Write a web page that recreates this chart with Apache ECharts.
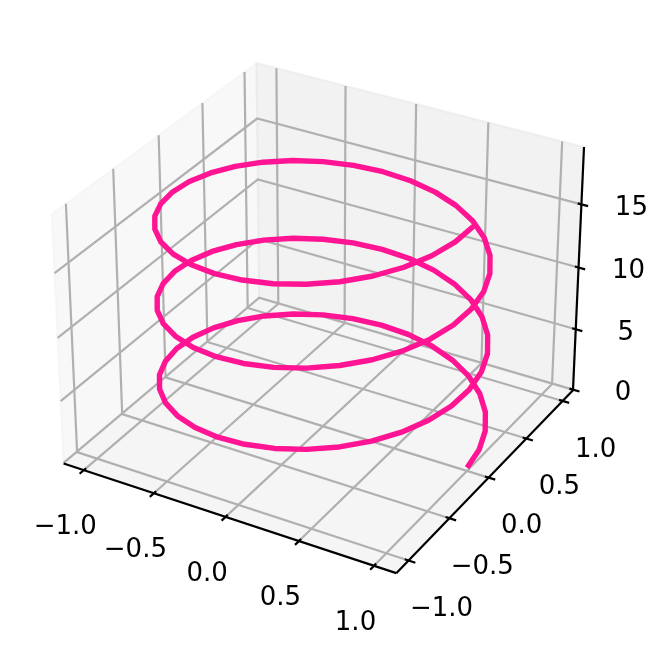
<!DOCTYPE html>
<html><head><meta charset="utf-8">
<style>html,body{margin:0;padding:0;background:#fff}#c{width:667px;height:655px}</style>
<script src="https://cdn.jsdelivr.net/npm/echarts@6/dist/echarts.min.js"></script>
</head><body><div id="c"></div>
<script>
var helixX=[1.000,.982,.928,.841,.724,.580,.415,.236,.048,-.142,-.327,-.500,-.655,-.786,-.889,-.959,-.995,-.995,-.959,-.889,-.786,-.655,-.500,-.327,-.142,.048,.236,.415,.580,.724,.841,.928,.982,
1.000,.982,.928,.841,.724,.580,.415,.236,.048,-.142,-.327,-.500,-.655,-.786,-.889,-.959,-.995,-.995,-.959,-.889,-.786,-.655,-.500,-.327,-.142,.048,.236,.415,.580,.724,.841,.928,.982,
1.000,.982,.928,.841,.724,.580,.415,.236,.048,-.142,-.327,-.500,-.655,-.786,-.889,-.959,-.995,-.995,-.959,-.889,-.786,-.655,-.500,-.327,-.142,.048,.236,.415,.580,.724,.841,.928,.982,1.000];
var helixY=[0,.189,.372,.541,.690,.815,.910,.972,.999,.990,.945,.866,.756,.618,.458,.282,.095,-.095,-.282,-.458,-.618,-.756,-.866,-.945,-.990,-.999,-.972,-.910,-.815,-.690,-.541,-.372,-.189,
0,.189,.372,.541,.690,.815,.910,.972,.999,.990,.945,.866,.756,.618,.458,.282,.095,-.095,-.282,-.458,-.618,-.756,-.866,-.945,-.990,-.999,-.972,-.910,-.815,-.690,-.541,-.372,-.189,
0,.189,.372,.541,.690,.815,.910,.972,.999,.990,.945,.866,.756,.618,.458,.282,.095,-.095,-.282,-.458,-.618,-.756,-.866,-.945,-.990,-.999,-.972,-.910,-.815,-.690,-.541,-.372,-.189,0];
var helixZ=[.20,.39,.58,.77,.96,1.15,1.34,1.53,1.72,1.91,2.10,2.29,2.48,2.68,2.87,3.06,3.25,3.44,3.63,3.82,4.01,4.20,4.39,4.58,4.77,4.96,5.15,5.34,5.53,5.72,5.91,6.10,6.29,6.48,6.67,6.86,7.05,7.25,7.44,7.63,7.82,8.01,8.20,8.39,8.58,8.77,8.96,9.15,9.34,9.53,9.72,9.91,10.10,10.29,10.48,10.67,10.86,11.05,11.24,11.43,11.62,11.82,12.01,12.20,12.39,12.58,12.77,12.96,13.15,13.34,13.53,13.72,13.91,14.10,14.29,14.48,14.67,14.86,15.05,15.24,15.43,15.62,15.81,16.00,16.20,16.39,16.58,16.77,16.96,17.15,17.34,17.53,17.72,17.91,18.10,18.29,18.48,18.67,18.86,19.05];
var xTicks=[-1,-0.5,0,0.5,1];
var yTicks=[-1,-0.5,0,0.5,1];
var zTicks=[0,5,10,15];
var xTickLabels=["\u22121.0","\u22120.5","0.0","0.5","1.0"];
var yTickLabels=["\u22121.0","\u22120.5","0.0","0.5","1.0"];
var zTickLabels=["0","5","10","15"];
var xLim=[-1.146,1.146], yLim=[-1.146,1.146], zLim=[-0.05,19.45];

// mplot3d-style perspective projection (elev 30, azim -60, dist 10)
var box=[1.1905,1.1905,0.88];
var uVec=[.8660,.5,0], vVec=[-.25,.4330,.8660], wVec=[.4330,-.75,.5];
function dot(a,b){return a[0]*b[0]+a[1]*b[1]+a[2]*b[2];}
function project(x,y,z){
  var p=[((x-xLim[0])/(xLim[1]-xLim[0])-.5)*box[0],
         ((y-yLim[0])/(yLim[1]-yLim[0])-.5)*box[1],
         ((z-zLim[0])/(zLim[1]-zLim[0])-.5)*box[2]];
  var d=10-dot(p,wVec);
  return [dot(p,uVec)/d,dot(p,vVec)/d];
}
var gridColor='#b0b0b0', series=[];
var x0=xLim[0],x1=xLim[1],y0=yLim[0],y1=yLim[1],z0=zLim[0],z1=zLim[1];
var panes=[
 {c:[[x0,y0,z0],[x0,y1,z0],[x0,y1,z1],[x0,y0,z1]],f:'rgba(242,242,242,0.5)'},
 {c:[[x0,y1,z0],[x1,y1,z0],[x1,y1,z1],[x0,y1,z1]],f:'rgba(230,230,230,0.5)'},
 {c:[[x0,y0,z0],[x1,y0,z0],[x1,y1,z0],[x0,y1,z0]],f:'rgba(236,236,236,0.5)'}
];
series.push({type:'custom',silent:true,z:1,data:panes.map(function(p,i){return [i];}),
  renderItem:function(params,api){
    var p=panes[params.dataIndex];
    return {type:'polygon',shape:{points:p.c.map(function(c){return api.coord(project(c[0],c[1],c[2]));})},
      style:{fill:p.f,stroke:p.f,lineWidth:2}};
  }});
function poly(pts,color,w,z){
  series.push({type:'line',silent:true,z:z,symbol:'none',animation:false,clip:false,
    data:pts.map(function(c){return project(c[0],c[1],c[2]);}),
    lineStyle:{color:color,width:w,cap:'butt',join:'miter'}});
}
xTicks.forEach(function(t){poly([[t,y0,z0],[t,y1,z0],[t,y1,z1]],gridColor,2.2,2);});
yTicks.forEach(function(t){poly([[x1,t,z0],[x0,t,z0],[x0,t,z1]],gridColor,2.2,2);});
zTicks.forEach(function(t){poly([[x0,y0,t],[x0,y1,t],[x1,y1,t]],gridColor,2.2,2);});
poly([[x0,y0,z0],[x1,y0,z0]],'#000',2.2,3);
poly([[x1,y0,z0],[x1,y1,z0]],'#000',2.2,3);
poly([[x1,y1,z0],[x1,y1,z1]],'#000',2.2,3);
var tOut=.045,tIn=.025;
xTicks.forEach(function(t){poly([[t,y0+tIn,z0],[t,y0-tOut,z0]],'#000',2.2,3);});
yTicks.forEach(function(t){poly([[x1-tIn,t,z0],[x1+tOut,t,z0]],'#000',2.2,3);});
zTicks.forEach(function(t){poly([[x1-tIn,y1,t],[x1+tOut,y1,t]],'#000',2.2,3);});
series.push({type:'line',z:4,symbol:'none',clip:false,
  data:helixX.map(function(v,i){return project(v,helixY[i],helixZ[i]);}),
  lineStyle:{color:'#ff1493',width:5.4,join:'round',cap:'butt'}});
var labels=[];
xTicks.forEach(function(t,i){labels.push({p:project(t,y0,z0),s:xTickLabels[i],dx:-18.5,dy:57});});
yTicks.forEach(function(t,i){labels.push({p:project(x1,t,z0),s:yTickLabels[i],dx:33,dy:49});});
zTicks.forEach(function(t,i){labels.push({p:project(x1,y1,t),s:zTickLabels[i],dx:50,dy:4});});
series.push({type:'custom',silent:true,z:5,data:labels.map(function(l,i){return [i];}),
  renderItem:function(params,api){
    var l=labels[params.dataIndex],c=api.coord(l.p);
    return {type:'text',style:{x:c[0]+l.dx,y:c[1]+l.dy,text:l.s,fill:'#000',align:'center',verticalAlign:'middle',
      font:'26px "DejaVu Sans"'}};
  }});
var chart=echarts.init(document.getElementById('c'),null,{width:667,height:655,renderer:'canvas'});
chart.setOption({animation:false,backgroundColor:'#fff',
  grid:{left:0,right:0,top:0,bottom:0},
  xAxis:{type:'value',min:-0.10094,max:0.1075,show:false},
  yAxis:{type:'value',min:-0.10811,max:0.09467,show:false},
  series:series});
</script></body></html>
